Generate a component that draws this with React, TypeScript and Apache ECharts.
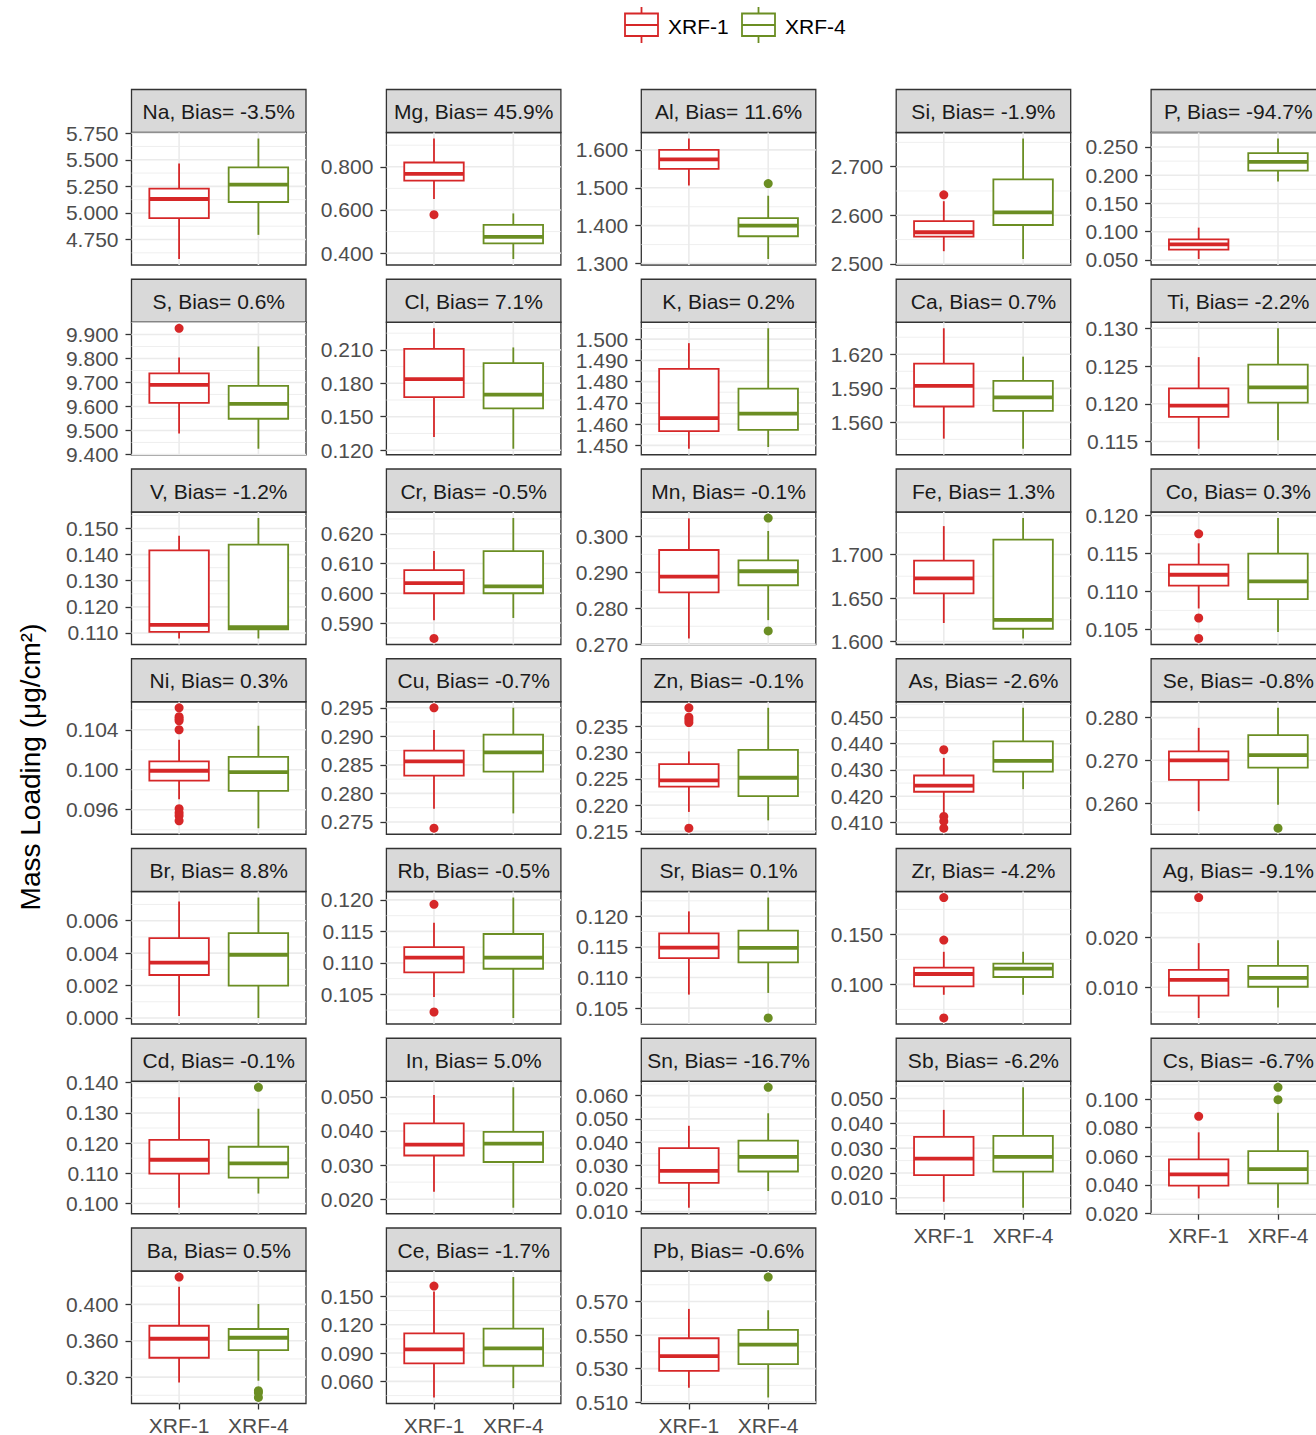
import React, { useEffect, useRef } from 'react';
import * as echarts from 'echarts';

// ---------------- data ----------------
const instruments = ['XRF-1', 'XRF-4'];
const colors = ['#D62728', '#6B8E23'];

const elements = ['Na', 'Mg', 'Al', 'Si', 'P', 'S', 'Cl', 'K', 'Ca', 'Ti', 'V', 'Cr', 'Mn', 'Fe', 'Co',
  'Ni', 'Cu', 'Zn', 'As', 'Se', 'Br', 'Rb', 'Sr', 'Zr', 'Ag', 'Cd', 'In', 'Sn', 'Sb', 'Cs', 'Ba', 'Ce', 'Pb'];

const biasPercent = ['-3.5', '45.9', '11.6', '-1.9', '-94.7', '0.6', '7.1', '0.2', '0.7', '-2.2',
  '-1.2', '-0.5', '-0.1', '1.3', '0.3', '0.3', '-0.7', '-0.1', '-2.6', '-0.8',
  '8.8', '-0.5', '0.1', '-4.2', '-9.1', '-0.1', '5.0', '-16.7', '-6.2', '-6.7', '0.5', '-1.7', '-0.6'];

// [lower whisker, Q1, median, Q3, upper whisker]
const xrf1Box = [
  [4.567, 4.952, 5.131, 5.229, 5.466],
  [0.651, 0.736, 0.767, 0.820, 0.931],
  [1.506, 1.550, 1.575, 1.600, 1.630],
  [2.526, 2.556, 2.565, 2.588, 2.629],
  [0.0518, 0.0685, 0.0775, 0.0865, 0.1073],
  [9.487, 9.615, 9.690, 9.738, 9.804],
  [0.1319, 0.1676, 0.1837, 0.2110, 0.2294],
  [1.4484, 1.4567, 1.4628, 1.4860, 1.4981],
  [1.5457, 1.5740, 1.5921, 1.6117, 1.6429],
  [0.11405, 0.11828, 0.11976, 0.12205, 0.12618],
  [0.1079, 0.1104, 0.1131, 0.1416, 0.1472],
  [0.5909, 0.6000, 0.6034, 0.6078, 0.6142],
  [0.2716, 0.2844, 0.2888, 0.2962, 0.3050],
  [1.6213, 1.6554, 1.6725, 1.6930, 1.7326],
  [0.10776, 0.11078, 0.11221, 0.11354, 0.11635],
  [0.09704, 0.09892, 0.09990, 0.10084, 0.10299],
  [0.2773, 0.2831, 0.2856, 0.2875, 0.2911],
  [0.2187, 0.2235, 0.2247, 0.2278, 0.2302],
  [0.4127, 0.4217, 0.4240, 0.4279, 0.4346],
  [0.2581, 0.2654, 0.2700, 0.2721, 0.2776],
  [0.00012, 0.00265, 0.00342, 0.00493, 0.00718],
  [0.10457, 0.10848, 0.11084, 0.11250, 0.11636],
  [0.10721, 0.11317, 0.11488, 0.11719, 0.12078],
  [0.0896, 0.0980, 0.1104, 0.1168, 0.1326],
  [0.0038, 0.0083, 0.0115, 0.0135, 0.0189],
  [0.0986, 0.1099, 0.1145, 0.1211, 0.1352],
  [0.0222, 0.0328, 0.0360, 0.0422, 0.0505],
  [0.0117, 0.0224, 0.0276, 0.0374, 0.0470],
  [0.0084, 0.0191, 0.0258, 0.0345, 0.0454],
  [0.0305, 0.0394, 0.0473, 0.0578, 0.0767],
  [0.3141, 0.3413, 0.3622, 0.3765, 0.4195],
  [0.0430, 0.0791, 0.0939, 0.1108, 0.1553],
  [0.5186, 0.5287, 0.5375, 0.5481, 0.5656],
];

const xrf4Box = [
  [4.794, 5.103, 5.267, 5.428, 5.700],
  [0.373, 0.445, 0.475, 0.531, 0.584],
  [1.312, 1.372, 1.400, 1.420, 1.479],
  [2.510, 2.580, 2.606, 2.674, 2.758],
  [0.1891, 0.2082, 0.2238, 0.2393, 0.2650],
  [9.424, 9.549, 9.611, 9.686, 9.850],
  [0.1213, 0.1576, 0.1698, 0.1982, 0.2122],
  [1.4492, 1.4573, 1.4649, 1.4767, 1.5051],
  [1.5368, 1.5701, 1.5820, 1.5965, 1.6179],
  [0.11518, 0.12016, 0.12218, 0.12519, 0.13000],
  [0.1079, 0.1114, 0.1122, 0.1438, 0.1540],
  [0.5917, 0.6000, 0.6023, 0.6142, 0.6253],
  [0.2767, 0.2864, 0.2903, 0.2933, 0.3015],
  [1.6035, 1.6147, 1.6248, 1.7171, 1.7419],
  [0.10464, 0.10900, 0.11132, 0.11500, 0.11969],
  [0.09415, 0.09788, 0.09976, 0.10128, 0.10440],
  [0.2765, 0.2838, 0.2872, 0.2903, 0.2950],
  [0.2171, 0.2217, 0.2252, 0.2305, 0.2385],
  [0.4227, 0.4294, 0.4335, 0.4409, 0.4537],
  [0.2596, 0.2683, 0.2712, 0.2759, 0.2823],
  [0.0000, 0.0020, 0.0039, 0.00523, 0.00743],
  [0.10125, 0.10907, 0.11084, 0.11459, 0.12038],
  [0.10749, 0.11245, 0.11482, 0.11763, 0.12304],
  [0.0896, 0.1074, 0.1158, 0.1208, 0.1326],
  [0.0059, 0.0101, 0.0119, 0.0143, 0.0195],
  [0.1033, 0.1086, 0.1133, 0.1188, 0.1314],
  [0.0175, 0.0309, 0.0363, 0.0397, 0.0528],
  [0.0189, 0.0273, 0.0336, 0.0406, 0.0524],
  [0.0060, 0.0205, 0.0265, 0.0349, 0.0545],
  [0.0240, 0.0410, 0.0510, 0.0636, 0.0904],
  [0.3160, 0.3497, 0.3633, 0.3729, 0.4004],
  [0.0529, 0.0766, 0.0949, 0.1158, 0.1705],
  [0.5128, 0.5327, 0.5443, 0.5531, 0.5648],
];

const xrf1Outliers = [
  [], [0.578], [], [2.642], [], [9.926], [], [], [], [],
  [], [0.5848], [], [], [0.1176, 0.1065, 0.1038],
  [0.1062, 0.1053, 0.1051, 0.1049, 0.1040, 0.0961, 0.0957, 0.0954, 0.0949],
  [0.2950, 0.2739], [0.2385, 0.2367, 0.2362, 0.2357, 0.2156], [0.4377, 0.4123, 0.4105, 0.4078], [],
  [], [0.1193, 0.1022], [], [0.1869, 0.1443, 0.0664], [0.0281],
  [], [], [], [], [0.0879],
  [0.4301], [0.1609], [],
];

const xrf4Outliers = [
  [], [], [1.511], [], [], [], [], [], [], [],
  [], [], [0.3051, 0.2737], [], [],
  [], [], [], [], [0.2541],
  [], [], [0.1034], [], [],
  [0.1385], [], [0.0636], [], [0.1082, 0.0995],
  [0.3050, 0.3028, 0.2976], [], [0.5846],
];

const yTicks = [
  [4.75, 5, 5.25, 5.5, 5.75],
  [0.4, 0.6, 0.8],
  [1.3, 1.4, 1.5, 1.6],
  [2.5, 2.6, 2.7],
  [0.05, 0.1, 0.15, 0.2, 0.25],
  [9.4, 9.5, 9.6, 9.7, 9.8, 9.9],
  [0.12, 0.15, 0.18, 0.21],
  [1.45, 1.46, 1.47, 1.48, 1.49, 1.5],
  [1.56, 1.59, 1.62],
  [0.115, 0.12, 0.125, 0.13],
  [0.11, 0.12, 0.13, 0.14, 0.15],
  [0.59, 0.6, 0.61, 0.62],
  [0.27, 0.28, 0.29, 0.3],
  [1.6, 1.65, 1.7],
  [0.105, 0.11, 0.115, 0.12],
  [0.096, 0.1, 0.104],
  [0.275, 0.28, 0.285, 0.29, 0.295],
  [0.215, 0.22, 0.225, 0.23, 0.235],
  [0.41, 0.42, 0.43, 0.44, 0.45],
  [0.26, 0.27, 0.28],
  [0, 0.002, 0.004, 0.006],
  [0.105, 0.11, 0.115, 0.12],
  [0.105, 0.11, 0.115, 0.12],
  [0.1, 0.15],
  [0.01, 0.02],
  [0.1, 0.11, 0.12, 0.13, 0.14],
  [0.02, 0.03, 0.04, 0.05],
  [0.01, 0.02, 0.03, 0.04, 0.05, 0.06],
  [0.01, 0.02, 0.03, 0.04, 0.05],
  [0.02, 0.04, 0.06, 0.08, 0.1],
  [0.32, 0.36, 0.4],
  [0.06, 0.09, 0.12, 0.15],
  [0.51, 0.53, 0.55, 0.57],
];

const yTitle = 'Mass Loading (\u03bcg/cm\u00b2)';

// ---------------- layout ----------------
const W = 1316;
const H = 1435;
const NCOL = 5;
const COL_LEFT0 = 131.5;
const COL_STEP = 254.9;
const PANEL_W = 174.5;
const ROW_TOP0 = 89.5;
const ROW_STEP = 189.75;
const STRIP_H = 43;
const PANEL_H = 132.5;
const BOX_HALF = 0.375;
const FONT = '"Liberation Sans", Arial, Helvetica, sans-serif';
const AXIS_TEXT = '#4D4D4D';
const DARK = '#333333';
const GRID_COL = '#EBEBEB';

function yRange(i: number): [number, number] {
  const vals = [...xrf1Box[i], ...xrf4Box[i], ...xrf1Outliers[i], ...xrf4Outliers[i]];
  const lo = Math.min(...vals);
  const hi = Math.max(...vals);
  const pad = (hi - lo) * 0.05;
  return [lo - pad, hi + pad];
}

function gridLineData(i: number, yMin: number, yMax: number) {
  const t = yTicks[i];
  const step = t[1] - t[0];
  const out: number[][] = t.map((v) => [0, v]);
  const cands = [t[0] - step / 2, ...t.map((v) => v + step / 2)];
  cands.forEach((v) => {
    if (v > yMin && v < yMax) out.push([1, v]);
  });
  out.push([2, 1], [2, 2]);
  return out;
}

function buildOption() {
  const grids: any[] = [];
  const xAxes: any[] = [];
  const yAxes: any[] = [];
  const series: any[] = [];
  const graphics: any[] = [];

  elements.forEach((el, i) => {
    const r = Math.floor(i / NCOL);
    const c = i % NCOL;
    const left = COL_LEFT0 + c * COL_STEP;
    const stripTop = ROW_TOP0 + r * ROW_STEP;
    const top = stripTop + STRIP_H;
    const [yMin, yMax] = yRange(i);
    const bottomRow = i + NCOL >= elements.length;

    grids.push({
      left, top, width: PANEL_W, height: PANEL_H,
      show: true, borderColor: DARK, borderWidth: 1.3, backgroundColor: '#fff',
      containLabel: false, outerBoundsMode: 'none',
    });

    xAxes.push({
      type: 'value', gridIndex: i, min: 0.4, max: 2.6,
      axisLine: { show: false },
      splitLine: { show: false },
      axisTick: { show: bottomRow, customValues: [1, 2], length: 6, lineStyle: { color: DARK, width: 1.3 } },
      axisLabel: {
        show: bottomRow, customValues: [1, 2],
        formatter: (v: number) => instruments[Math.round(v) - 1] || '',
        color: AXIS_TEXT, fontSize: 21, fontFamily: FONT, margin: 11,
      },
    });

    yAxes.push({
      type: 'value', gridIndex: i, min: yMin, max: yMax,
      axisLine: { show: false },
      splitLine: { show: false },
      axisTick: { show: true, customValues: yTicks[i], length: 6, lineStyle: { color: DARK, width: 1.3 } },
      axisLabel: {
        show: true, customValues: yTicks[i],
        formatter: (v: number) => v.toFixed(3),
        color: AXIS_TEXT, fontSize: 21, fontFamily: FONT, margin: 13,
      },
    });

    // gridlines
    series.push({
      type: 'custom', xAxisIndex: i, yAxisIndex: i, z: 1, silent: true,
      data: gridLineData(i, yMin, yMax),
      encode: { x: 0, y: 1 },
      renderItem: (params: any, api: any) => {
        const kind = api.value(0);
        const v = api.value(1);
        const cs = params.coordSys;
        if (kind === 2) {
          const px = api.coord([v, (yMin + yMax) / 2])[0];
          return { type: 'line', shape: { x1: px, y1: cs.y, x2: px, y2: cs.y + cs.height }, style: { stroke: GRID_COL, lineWidth: 1.6 } };
        }
        const py = api.coord([1, v])[1];
        return {
          type: 'line', shape: { x1: cs.x, y1: py, x2: cs.x + cs.width, y2: py },
          style: { stroke: GRID_COL, lineWidth: kind === 0 ? 1.6 : 0.8 },
        };
      },
    });

    // boxes
    series.push({
      type: 'custom', name: el, xAxisIndex: i, yAxisIndex: i, z: 2, silent: true,
      data: [[1, ...xrf1Box[i]], [2, ...xrf4Box[i]]],
      encode: { x: 0, y: [1, 2, 3, 4, 5] },
      renderItem: (params: any, api: any) => {
        const x = api.value(0);
        const lo = api.coord([x, api.value(1)]);
        const q1 = api.coord([x, api.value(2)]);
        const md = api.coord([x, api.value(3)]);
        const q3 = api.coord([x, api.value(4)]);
        const hi = api.coord([x, api.value(5)]);
        const l = api.coord([x - BOX_HALF, api.value(3)])[0];
        const rr = api.coord([x + BOX_HALF, api.value(3)])[0];
        const cx = lo[0];
        const col = colors[params.dataIndex];
        return {
          type: 'group',
          children: [
            { type: 'line', shape: { x1: cx, y1: hi[1], x2: cx, y2: q3[1] }, style: { stroke: col, lineWidth: 1.8 } },
            { type: 'line', shape: { x1: cx, y1: q1[1], x2: cx, y2: lo[1] }, style: { stroke: col, lineWidth: 1.8 } },
            { type: 'rect', shape: { x: l, y: q3[1], width: rr - l, height: q1[1] - q3[1] }, style: { fill: '#fff', stroke: col, lineWidth: 1.8 } },
            { type: 'line', shape: { x1: l, y1: md[1], x2: rr, y2: md[1] }, style: { stroke: col, lineWidth: 3.8 } },
          ],
        };
      },
    });

    // outliers
    const pts: any[] = [];
    xrf1Outliers[i].forEach((v) => pts.push({ value: [1, v], itemStyle: { color: colors[0], opacity: 1 } }));
    xrf4Outliers[i].forEach((v) => pts.push({ value: [2, v], itemStyle: { color: colors[1], opacity: 1 } }));
    series.push({
      type: 'scatter', xAxisIndex: i, yAxisIndex: i, z: 3, silent: true,
      symbol: 'circle', symbolSize: 9, data: pts, itemStyle: { opacity: 1 },
    });

    // strip
    graphics.push({
      type: 'group',
      children: [
        {
          type: 'rect', shape: { x: left, y: stripTop, width: PANEL_W, height: STRIP_H },
          style: { fill: '#D9D9D9', stroke: DARK, lineWidth: 1.3 },
        },
        {
          type: 'text', x: left + PANEL_W / 2, y: stripTop + STRIP_H / 2 + 0.5,
          style: {
            text: `${el}, Bias= ${biasPercent[i]}%`, fontSize: 21, fontFamily: FONT, fill: '#1A1A1A',
            textAlign: 'center', textVerticalAlign: 'middle', align: 'center', verticalAlign: 'middle',
          },
        },
      ],
    });
  });

  // y-axis title
  graphics.push({
    type: 'text', x: 30, y: 767, rotation: Math.PI / 2,
    style: {
      text: yTitle, fontSize: 28, fontFamily: FONT, fill: '#000',
      textAlign: 'center', textVerticalAlign: 'middle', align: 'center', verticalAlign: 'middle',
    },
  });

  // legend
  const legendLeft = [625, 742];
  instruments.forEach((name, k) => {
    const x0 = legendLeft[k];
    const col = colors[k];
    graphics.push({
      type: 'group',
      children: [
        { type: 'line', shape: { x1: x0 + 16.5, y1: 7, x2: x0 + 16.5, y2: 43 }, style: { stroke: col, lineWidth: 1.8 } },
        { type: 'rect', shape: { x: x0, y: 13.5, width: 33, height: 22.5 }, style: { fill: '#fff', stroke: col, lineWidth: 1.8 } },
        { type: 'line', shape: { x1: x0, y1: 25, x2: x0 + 33, y2: 25 }, style: { stroke: col, lineWidth: 1.8 } },
        {
          type: 'text', x: x0 + 43, y: 26,
          style: {
            text: name, fontSize: 21, fontFamily: FONT, fill: '#000',
            textAlign: 'left', textVerticalAlign: 'middle', align: 'left', verticalAlign: 'middle',
          },
        },
      ],
    });
  });

  return {
    animation: false,
    backgroundColor: '#fff',
    grid: grids,
    xAxis: xAxes,
    yAxis: yAxes,
    series,
    graphic: graphics,
  };
}

export default function App() {
  const ref = useRef<HTMLDivElement>(null);
  useEffect(() => {
    if (!ref.current) return;
    const chart = echarts.init(ref.current, undefined, { renderer: 'svg' });
    chart.setOption(buildOption() as any);
    return () => chart.dispose();
  }, []);
  return (
    <div
      ref={ref}
      style={{ position: 'absolute', left: 0, top: 0, width: W, height: H, background: '#fff' }}
    />
  );
}
